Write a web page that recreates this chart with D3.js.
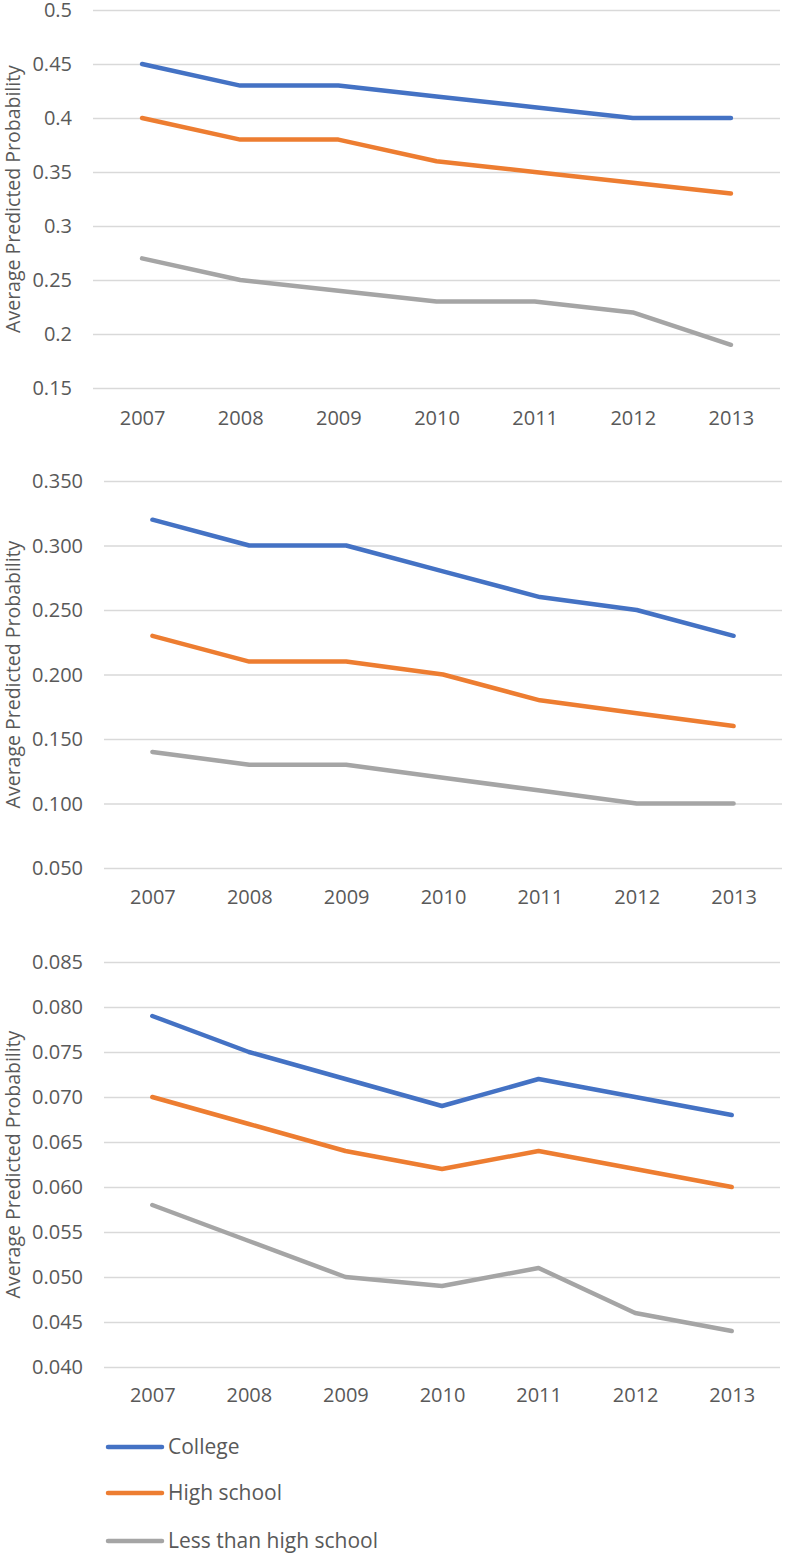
<!DOCTYPE html>
<html>
<head>
<meta charset="utf-8">
<script src="https://cdn.jsdelivr.net/npm/d3@7"></script>
<style>
  html, body { margin: 0; padding: 0; background: #fff; }
  svg { display: block; }
  text { font-family: "Open Sans", "Noto Sans", sans-serif; fill: #595959; }
</style>
</head>
<body>
<script>
// ---- data ----
const years = ["2007", "2008", "2009", "2010", "2011", "2012", "2013"];
const seriesNames = ["College", "High school", "Less than high school"];
const seriesColors = ["#4472C4", "#ED7D31", "#A5A5A5"];

const p1College = [0.45, 0.43, 0.43, 0.42, 0.41, 0.40, 0.40];
const p1HighSchool = [0.40, 0.38, 0.38, 0.36, 0.35, 0.34, 0.33];
const p1LessHS = [0.27, 0.25, 0.24, 0.23, 0.23, 0.22, 0.19];
const p1Ticks = [0.15, 0.2, 0.25, 0.3, 0.35, 0.4, 0.45, 0.5];

const p2College = [0.32, 0.30, 0.30, 0.28, 0.26, 0.25, 0.23];
const p2HighSchool = [0.23, 0.21, 0.21, 0.20, 0.18, 0.17, 0.16];
const p2LessHS = [0.14, 0.13, 0.13, 0.12, 0.11, 0.10, 0.10];
const p2Ticks = [0.05, 0.10, 0.15, 0.20, 0.25, 0.30, 0.35];

const p3College = [0.079, 0.075, 0.072, 0.069, 0.072, 0.070, 0.068];
const p3HighSchool = [0.070, 0.067, 0.064, 0.062, 0.064, 0.062, 0.060];
const p3LessHS = [0.058, 0.054, 0.050, 0.049, 0.051, 0.046, 0.044];
const p3Ticks = [0.040, 0.045, 0.050, 0.055, 0.060, 0.065, 0.070, 0.075, 0.080, 0.085];

const yTitle = "Average Predicted Probability";

// ---- layout ----
const W = 787, H = 1554;
const svg = d3.select("body").append("svg").attr("width", W).attr("height", H);

const panels = [
  { series: [p1College, p1HighSchool, p1LessHS], ticks: p1Ticks, fmt: d3.format(""),
    x0: 93, x1: 780, yTop: 10, yBot: 388, xLabelY: 418, titleX: 13 },
  { series: [p2College, p2HighSchool, p2LessHS], ticks: p2Ticks, fmt: d3.format(".3f"),
    x0: 104, x1: 782, yTop: 481, yBot: 868, xLabelY: 897, titleX: 13 },
  { series: [p3College, p3HighSchool, p3LessHS], ticks: p3Ticks, fmt: d3.format(".3f"),
    x0: 104, x1: 780, yTop: 962, yBot: 1367, xLabelY: 1395, titleX: 13 }
];

panels.forEach(p => {
  const g = svg.append("g");
  const x = d3.scalePoint().domain(years).range([p.x0, p.x1]).padding(0.5);
  const y = d3.scaleLinear()
    .domain([d3.min(p.ticks), d3.max(p.ticks)])
    .range([p.yBot, p.yTop]);

  // gridlines + y tick labels
  const yAxis = g.append("g")
    .attr("transform", `translate(${p.x0},0)`)
    .call(d3.axisLeft(y).tickValues(p.ticks).tickFormat(p.fmt).tickSize(-(p.x1 - p.x0)).tickPadding(21));
  yAxis.select(".domain").remove();
  yAxis.selectAll(".tick line").attr("stroke", "#d9d9d9").attr("stroke-width", 1.3);
  yAxis.selectAll(".tick text")
    .attr("dy", "0.34em")
    .attr("font-size", 20).attr("fill", "#595959")
    .style("font-family", '"Open Sans", sans-serif');

  // x labels
  const xAxis = g.append("g")
    .attr("transform", `translate(0,${p.xLabelY})`)
    .call(d3.axisBottom(x).tickSize(0).tickPadding(0));
  xAxis.select(".domain").remove();
  xAxis.selectAll(".tick text")
    .attr("dy", "0.35em")
    .attr("font-size", 20).attr("fill", "#595959")
    .style("font-family", '"Open Sans", sans-serif');

  // axis title
  g.append("text")
    .attr("transform", `translate(${p.titleX},${(p.yTop + p.yBot) / 2}) rotate(-90)`)
    .attr("text-anchor", "middle")
    .attr("dy", "0.35em")
    .attr("font-size", 19.5)
    .text(yTitle);

  // lines
  const line = d3.line().x((d, i) => x(years[i])).y(d => y(d));
  p.series.forEach((s, si) => {
    g.append("path")
      .datum(s)
      .attr("d", line)
      .attr("fill", "none")
      .attr("stroke", seriesColors[si])
      .attr("stroke-width", 4.5)
      .attr("stroke-linecap", "round")
      .attr("stroke-linejoin", "round");
  });
});

// ---- legend ----
const legendY = [1447, 1493, 1541];
const legend = svg.append("g");
seriesNames.forEach((name, i) => {
  legend.append("line")
    .attr("x1", 108).attr("x2", 162)
    .attr("y1", legendY[i]).attr("y2", legendY[i])
    .attr("stroke", seriesColors[i])
    .attr("stroke-width", 4.5)
    .attr("stroke-linecap", "round");
  legend.append("text")
    .attr("x", 168).attr("y", legendY[i])
    .attr("dy", "0.35em")
    .attr("font-size", 21)
    .text(name);
});
</script>
</body>
</html>
